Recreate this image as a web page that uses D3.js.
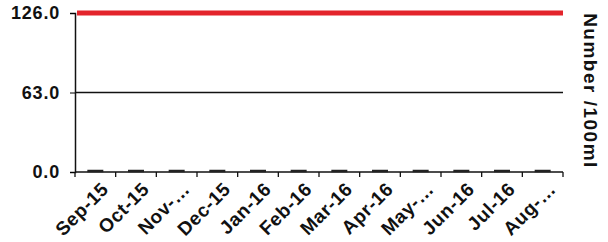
<html>
<head>
<script src="https://d3js.org/d3.v7.min.js"></script>
<style>
body { margin: 0; background: white; font-family: "Liberation Sans", Arial, sans-serif; }
</style>
</head>
<body>
<script>
// chart data
var months = ["Sep-15","Oct-15","Nov-…","Dec-15","Jan-16","Feb-16","Mar-16","Apr-16","May-…","Jun-16","Jul-16","Aug-…"];
var counts = [0,0,0,0,0,0,0,0,0,0,0,0];
var limit = [126];
var yTicks = [0, 63, 126];

var width = 608, height = 242;
var mLeft = 75, mRight = 563, mTop = 13, mBottom = 172;

var svg = d3.select("body").append("svg")
  .attr("width", width).attr("height", height);

var x = d3.scaleBand().domain(months).range([mLeft, mRight]);
var y = d3.scaleLinear().domain([0, 126]).range([mBottom, mTop]);

// gridline at 63
svg.append("line")
  .attr("x1", mLeft).attr("x2", mRight)
  .attr("y1", y(63)).attr("y2", y(63))
  .attr("stroke", "#111").attr("stroke-width", 1.3);

// y axis
var yAxis = svg.append("g")
  .attr("transform", "translate(" + mLeft + ",0)")
  .call(d3.axisLeft(y).tickValues(yTicks).tickFormat(d3.format(".1f")).tickSize(5).tickPadding(10));
yAxis.select(".domain").attr("stroke", "#111").attr("stroke-width", 1.5);
yAxis.selectAll("text").attr("font-size", 18).attr("font-weight", "bold")
  .attr("letter-spacing", 0.8)
  .attr("font-family", "Liberation Sans, Arial, sans-serif").attr("fill", "#111");

// x axis with ticks at category edges
var edges = months.map(function(m){ return x(m); }).concat([mRight]);
var xg = svg.append("g");
xg.append("line").attr("x1", mLeft).attr("x2", mRight)
  .attr("y1", mBottom).attr("y2", mBottom).attr("stroke", "#111").attr("stroke-width", 1.5);
xg.selectAll(".tk").data(edges).enter().append("line")
  .attr("x1", function(d){ return d; }).attr("x2", function(d){ return d; })
  .attr("y1", mBottom).attr("y2", mBottom + 5).attr("stroke", "#111").attr("stroke-width", 1.3);
xg.selectAll("text").data(months).enter().append("text")
  .attr("transform", function(d){
    return "translate(" + (x(d) + x.bandwidth()/2 + 5) + "," + (mBottom + 9) + ") rotate(-45)";
  })
  .attr("text-anchor", "end").attr("dy", "0.7em")
  .attr("font-size", 19).attr("font-weight", "bold").attr("fill", "#111")
  .attr("letter-spacing", 0.6)
  .text(function(d){ return d; });

// count markers (short dashes at each month)
svg.selectAll(".pt").data(counts).enter().append("line")
  .attr("x1", function(d, i){ return x(months[i]) + x.bandwidth()/2 - 8; })
  .attr("x2", function(d, i){ return x(months[i]) + x.bandwidth()/2 + 8; })
  .attr("y1", function(d){ return y(d) - 1; }).attr("y2", function(d){ return y(d) - 1; })
  .attr("stroke", "#222").attr("stroke-width", 2.5);

// limit line
svg.selectAll(".lim").data(limit).enter().append("line")
  .attr("x1", mLeft + 2).attr("x2", mRight)
  .attr("y1", function(d){ return y(d); }).attr("y2", function(d){ return y(d); })
  .attr("stroke", "#e3242b").attr("stroke-width", 5);

// right axis title
svg.append("text")
  .attr("transform", "translate(584,91) rotate(90)")
  .attr("text-anchor", "middle")
  .attr("font-size", 19).attr("font-weight", "bold").attr("fill", "#111")
  .attr("letter-spacing", 1.5)
  .text("Number /100ml");
</script>
</body>
</html>
